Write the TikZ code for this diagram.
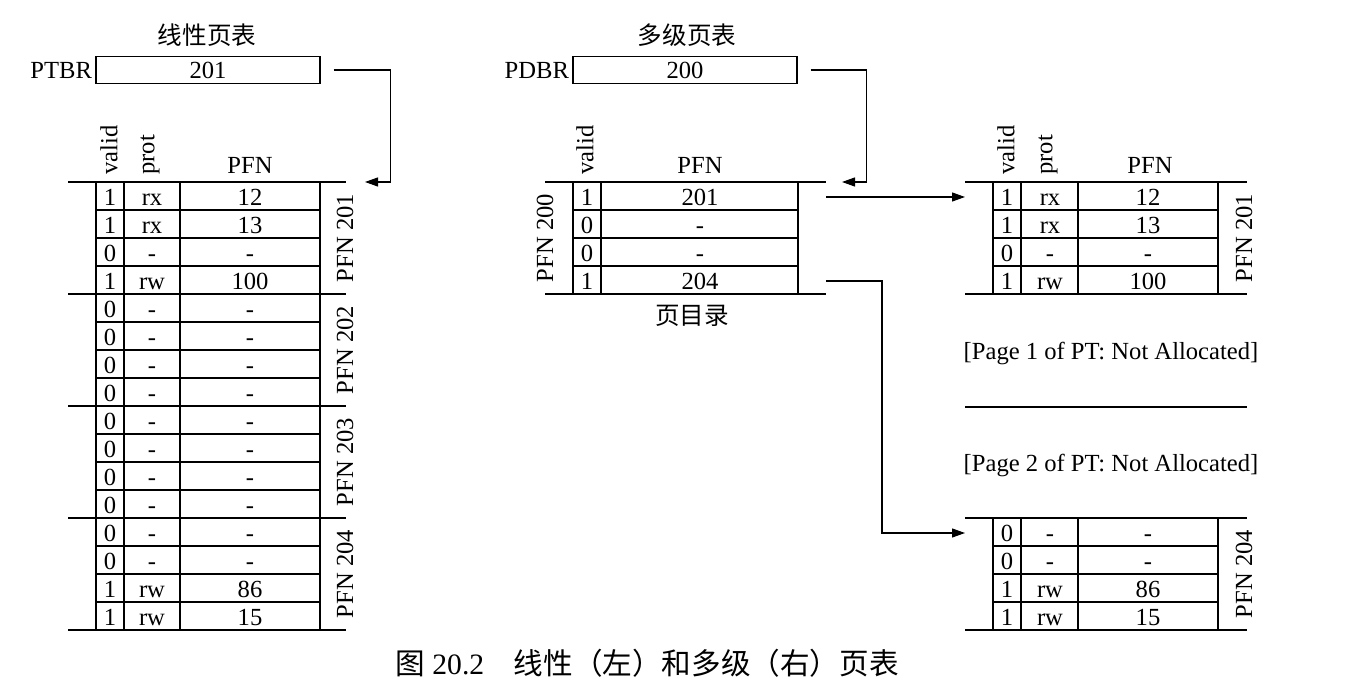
\documentclass[tikz,border=0pt]{standalone}
\usepackage{fontspec}
\setmainfont{Liberation Serif}
\newfontfamily\cjk{Noto Sans CJK SC}
\usetikzlibrary{arrows.meta}

\begin{document}
\begin{tikzpicture}[x=0.5pt, y=-0.5pt,
    every node/.style={font=\fontsize{12.3pt}{14pt}\selectfont, inner sep=0pt},
    cell/.style={anchor=center, text height=8.2pt, text depth=0pt},
    reg/.style={draw=black, line width=0.6pt, rectangle,
                minimum width=112pt, minimum height=13.5pt},
    reglbl/.style={anchor=east, inner xsep=1.5pt},
    head/.style={rotate=90, anchor=west},
    grp/.style={rotate=90, anchor=center},
    title/.style={font=\fontsize{12.3pt}{14pt}\selectfont\cjk},
    rule/.style={line width=1pt},
    grid/.style={line width=0.6pt},
    arrow/.style={-{Triangle[length=6.5pt,width=4.5pt]}, line width=0.6pt}
  ]
    \useasboundingbox (0,0) rectangle (1354,699);

    % Linear page table
    \node[title] (ltitle) at (207,35) {线性页表};
    \node[reg] (ptbr) at (208,70) {201};
    \node[reglbl] (ptbrlbl) at (ptbr.west) {PTBR};
    \node[head] (lhv) at (109,175) {valid};
    \node[head] (lhp) at (150,175) {prot};
    \node[cell] (lhf) at (250,165) {PFN};
    \foreach \v/\p/\f [count=\i] in {1/rx/12,1/rx/13,0/-/-,1/rw/100,
        0/-/-,0/-/-,0/-/-,0/-/-,0/-/-,0/-/-,0/-/-,0/-/-,0/-/-,0/-/-,1/rw/86,1/rw/15} {
      \node[cell] (lv\i) at (110,169+28*\i) {\v};
      \node[cell] (lp\i) at (152,169+28*\i) {\p};
      \node[cell] (lf\i) at (250,169+28*\i) {\f};
    }
    \foreach \k in {1,...,15} \draw[grid] (96,182+28*\k) -- (320,182+28*\k);
    \foreach \k in {0,4,8,12,16} \draw[rule] (68,182+28*\k) -- (346,182+28*\k);
    \foreach \x in {96,124,180,320} \draw[grid] (\x,182) -- (\x,630);
    \node[grp] (lg1) at (345,238) {PFN 201};
    \node[grp] (lg2) at (345,350) {PFN 202};
    \node[grp] (lg3) at (345,462) {PFN 203};
    \node[grp] (lg4) at (345,574) {PFN 204};

    % Multi-level: directory
    \node[title] (mtitle) at (687,35) {多级页表};
    \node[reg] (pdbr) at (685,70) {200};
    \node[reglbl] (pdbrlbl) at (pdbr.west) {PDBR};
    \node[head] (dhv) at (585,175) {valid};
    \node[cell] (dhf) at (700,165) {PFN};
    \foreach \v/\f [count=\i] in {1/201,0/-,0/-,1/204} {
      \node[cell] (dv\i) at (587,169+28*\i) {\v};
      \node[cell] (dp\i) at (700,169+28*\i) {\f};
    }
    \foreach \k in {1,2,3} \draw[grid] (573,182+28*\k) -- (798,182+28*\k);
    \foreach \k in {0,4} \draw[rule] (545,182+28*\k) -- (826,182+28*\k);
    \foreach \x in {573,601,798} \draw[grid] (\x,182) -- (\x,294);
    \node[grp] (dg) at (545,238) {PFN 200};
    \node[title] (dname) at (692,316) {页目录};

    % Multi-level: pages of the page table
    \node[head] (rhv) at (1006,175) {valid};
    \node[head] (rhp) at (1048,175) {prot};
    \node[cell] (rhf) at (1150,165) {PFN};
    \foreach \v/\p/\f [count=\i] in {1/rx/12,1/rx/13,0/-/-,1/rw/100} {
      \node[cell] (tv\i) at (1007,169+28*\i) {\v};
      \node[cell] (tp\i) at (1050,169+28*\i) {\p};
      \node[cell] (tf\i) at (1148,169+28*\i) {\f};
    }
    \foreach \v/\p/\f [count=\i] in {0/-/-,0/-/-,1/rw/86,1/rw/15} {
      \node[cell] (bv\i) at (1007,505+28*\i) {\v};
      \node[cell] (bp\i) at (1050,505+28*\i) {\p};
      \node[cell] (bf\i) at (1148,505+28*\i) {\f};
    }
    \foreach \y in {182,518} {
      \foreach \k in {1,2,3} \draw[grid] (993,\y+28*\k) -- (1218,\y+28*\k);
      \foreach \k in {0,4} \draw[rule] (965,\y+28*\k) -- (1247,\y+28*\k);
      \foreach \x in {993,1021,1078,1218} \draw[grid] (\x,\y) -- (\x,\y+112);
    }
    \node[grp] (tg) at (1244,238) {PFN 201};
    \node[grp] (bg) at (1244,574) {PFN 204};
    \node[cell] (na1) at (1111,351) {[Page 1 of PT: Not Allocated]};
    \draw[rule] (965,407) -- (1247,407);
    \node[cell] (na2) at (1111,463) {[Page 2 of PT: Not Allocated]};

    % Connectors
    \coordinate (lin) at (365,182);
    \coordinate (din) at (842,182);
    \coordinate (dirE) at (826,182);
    \coordinate (ptW) at (965,182);
    \draw[arrow] ([xshift=6.5pt]ptbr.east) -- ++(57,0) |- (lin);
    \draw[arrow] ([xshift=6.5pt]pdbr.east) -- ++(56,0) |- (din);
    \draw[arrow] (dp1 -| dirE) -- (dp1 -| ptW);
    \draw[arrow] (dp4 -| dirE) -- ++(56,0) |- (bv1 -| ptW);

    % Caption
    \node[font=\fontsize{14.8pt}{16pt}\selectfont] (caption) at (647,663)
      {{\cjk 图} 20.2\quad{\cjk 线性（左）和多级（右）页表}};
  \end{tikzpicture}
\end{document}
